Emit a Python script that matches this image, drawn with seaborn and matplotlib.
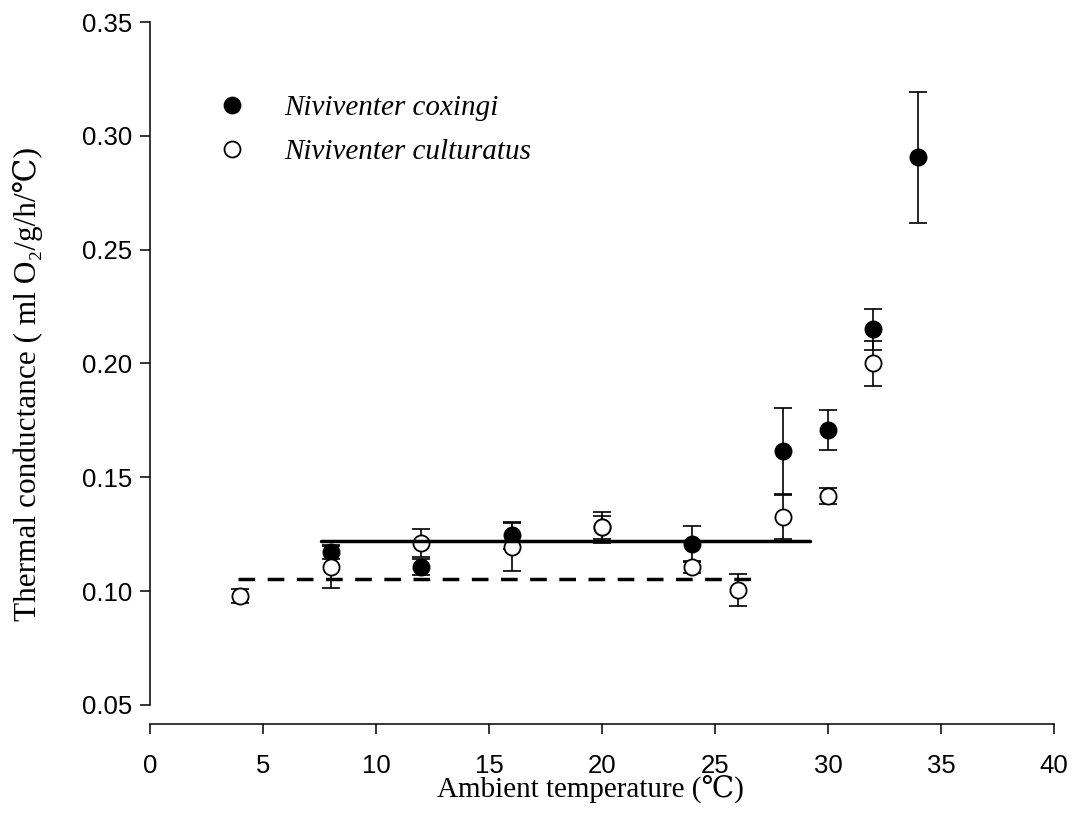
import matplotlib
matplotlib.use("Agg")
import matplotlib.pyplot as plt
from matplotlib.lines import Line2D
import seaborn as sns
import pandas as pd

# ---- data ----
temp_coxingi = [8, 12, 16, 20, 24, 28, 30, 32, 34]
cond_coxingi = [0.1172, 0.1106, 0.1246, 0.1280, 0.1207, 0.1615, 0.1707, 0.2151, 0.2906]
se_coxingi = [0.0030, 0.0037, 0.0060, 0.0068, 0.0080, 0.0188, 0.0088, 0.0090, 0.0287]

temp_culturatus = [4, 8, 12, 16, 20, 24, 26, 28, 30, 32]
cond_culturatus = [0.0979, 0.1106, 0.1211, 0.1194, 0.1281, 0.1106, 0.1005, 0.1325, 0.1418, 0.2001]
se_culturatus = [0.0030, 0.0092, 0.0061, 0.0106, 0.0050, 0.0027, 0.0070, 0.0097, 0.0036, 0.0098]

fit_coxingi_x = [7.55, 29.2]
fit_coxingi_y = [0.1222, 0.1222]
fit_culturatus_x = [3.9, 26.9]
fit_culturatus_y = [0.1054, 0.1054]

species = ["Niviventer coxingi", "Niviventer culturatus"]
xticks = [0, 5, 10, 15, 20, 25, 30, 35, 40]
yticks = [0.05, 0.10, 0.15, 0.20, 0.25, 0.30, 0.35]

df_cox = pd.DataFrame({"T": temp_coxingi, "C": cond_coxingi})
df_cul = pd.DataFrame({"T": temp_culturatus, "C": cond_culturatus})

sns.set_style("ticks")
serif = ["Liberation Serif", "DejaVu Serif", "Noto Sans CJK SC"]
sans = ["Liberation Sans", "DejaVu Sans"]
plt.rcParams["font.family"] = sans
plt.rcParams["text.color"] = "black"
plt.rcParams["axes.labelcolor"] = "black"
plt.rcParams["xtick.color"] = "black"
plt.rcParams["ytick.color"] = "black"

fig = plt.figure(figsize=(10.75, 8.32), dpi=100)
ax = fig.add_axes([150 / 1075, 1 - 705 / 832, 904 / 1075, 683 / 832])

# error bars
ax.errorbar(temp_coxingi, cond_coxingi, yerr=se_coxingi, fmt="none", ecolor="black",
            elinewidth=1.2, capsize=6.8, capthick=1.2, zorder=2)
ax.errorbar(temp_culturatus, cond_culturatus, yerr=se_culturatus, fmt="none", ecolor="black",
            elinewidth=1.2, capsize=6.8, capthick=1.2, zorder=2)

# points
sns.scatterplot(data=df_cox, x="T", y="C", ax=ax, s=135, color="black",
                edgecolor="black", linewidth=1.3, zorder=3, legend=False)
sns.scatterplot(data=df_cul, x="T", y="C", ax=ax, s=135, color="white",
                edgecolor="black", linewidth=1.3, zorder=4, legend=False)

# fit lines
sns.lineplot(x=fit_coxingi_x, y=fit_coxingi_y, ax=ax, color="black", lw=2.5, zorder=5)
sns.lineplot(x=fit_culturatus_x, y=fit_culturatus_y, ax=ax, color="black", lw=2.5, zorder=5)
ax.lines[-1].set_dashes((4.8, 3.6))

ax.set_xlim(0, 40)
ax.set_ylim(0.05, 0.35)
ax.set_xticks(xticks)
ax.set_yticks(yticks)
ax.set_xticklabels([str(t) for t in xticks])
ax.set_yticklabels([f"{t:.2f}" for t in yticks])

for s in ["top", "right"]:
    ax.spines[s].set_visible(False)
ax.spines["bottom"].set_position(("outward", 14))
for s in ["left", "bottom"]:
    ax.spines[s].set_linewidth(1.1)
    ax.spines[s].set_color("black")
ax.tick_params(axis="both", direction="out", length=7.2, width=1.1, colors="black",
               labelsize=18.5)
ax.tick_params(axis="x", pad=14)
ax.tick_params(axis="y", pad=5.5)
for lab in ax.get_xticklabels() + ax.get_yticklabels():
    lab.set_family(sans)

ax.set_xlabel("Ambient temperature (\u2103)", fontsize=21, family=serif, color="black")
ax.set_ylabel("Thermal conductance ( ml O\u2082/g/h/\u2103)", fontsize=22.5, family=serif,
              color="black")
ax.xaxis.set_label_coords(0.487, -0.104)
ax.yaxis.set_label_coords(-0.118, 0.47)

handles = [
    Line2D([], [], marker="o", ls="none", markersize=11.5, markerfacecolor="black",
           markeredgecolor="black", markeredgewidth=1.3),
    Line2D([], [], marker="o", ls="none", markersize=11.5, markerfacecolor="white",
           markeredgecolor="black", markeredgewidth=1.3),
]
leg = ax.legend(handles, species, loc="upper left", bbox_to_anchor=(0.0747, 0.893),
                frameon=False, handlelength=1.0, handletextpad=1.3, borderpad=0,
                borderaxespad=0, labelspacing=0.6,
                prop={"family": serif, "style": "italic", "size": 21})
for t in leg.get_texts():
    t.set_color("black")

fig.savefig("out.png", dpi=100)
